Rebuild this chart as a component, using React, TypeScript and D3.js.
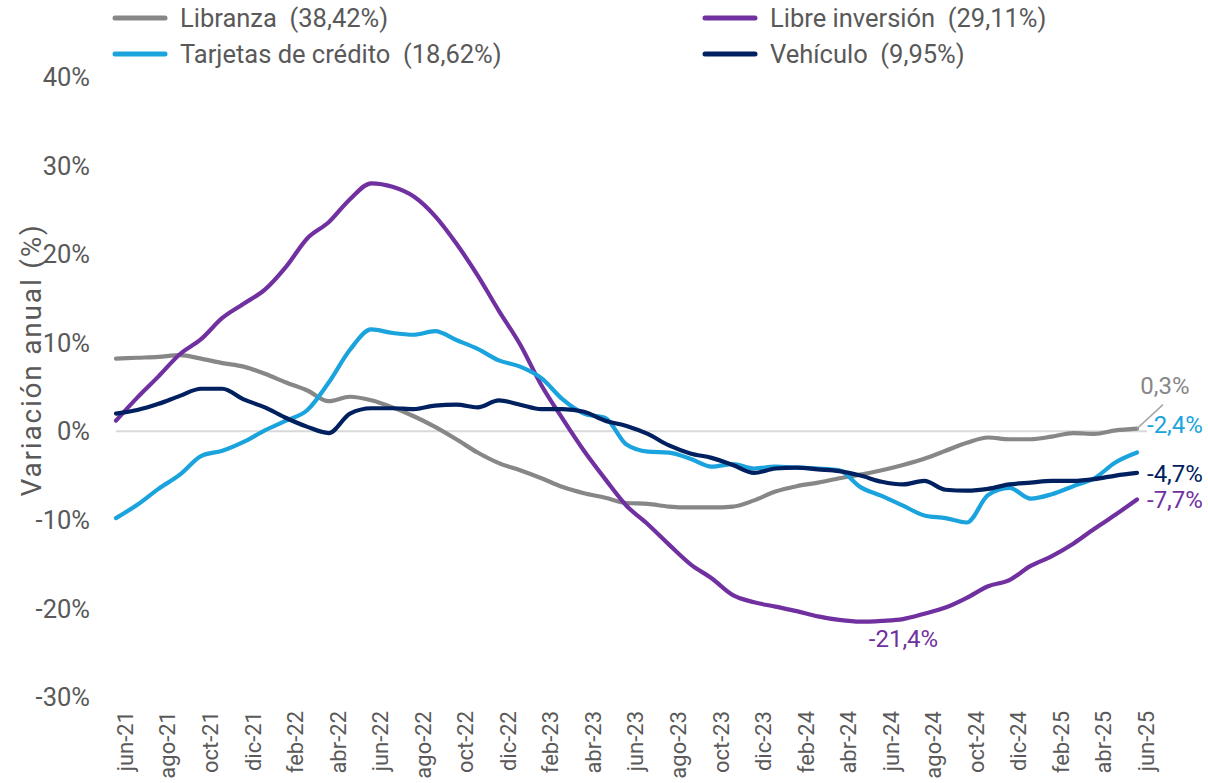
import React from "react";
import * as d3 from "d3";

// meses jun-21 .. jun-25 (49 puntos), etiquetas cada dos meses
const tickLabels = [
  "jun-21", "ago-21", "oct-21", "dic-21", "feb-22", "abr-22", "jun-22", "ago-22",
  "oct-22", "dic-22", "feb-23", "abr-23", "jun-23", "ago-23", "oct-23", "dic-23",
  "feb-24", "abr-24", "jun-24", "ago-24", "oct-24", "dic-24", "feb-25", "abr-25", "jun-25",
];

const libranza = [
  8.2, 8.3, 8.4, 8.6, 8.2, 7.7, 7.3, 6.5, 5.5, 4.6, 3.4, 3.9, 3.5, 2.7, 1.7, 0.5,
  -0.9, -2.4, -3.6, -4.4, -5.3, -6.3, -7.0, -7.5, -8.1, -8.2, -8.5, -8.6, -8.6, -8.5,
  -7.8, -6.8, -6.2, -5.8, -5.3, -4.9, -4.4, -3.8, -3.1, -2.2, -1.3, -0.7, -0.9, -0.9,
  -0.6, -0.2, -0.3, 0.1, 0.3,
];

const libreInversion = [
  1.2, 3.8, 6.2, 8.7, 10.4, 12.8, 14.4, 16.0, 18.6, 21.8, 23.6, 26.2, 28.0, 27.6, 26.5,
  24.3, 21.2, 17.6, 13.6, 9.8, 5.2, 1.4, -2.2, -5.4, -8.4, -10.5, -12.8, -15.0, -16.6,
  -18.5, -19.3, -19.8, -20.3, -20.9, -21.3, -21.5, -21.4, -21.2, -20.6, -19.9, -18.8,
  -17.5, -16.8, -15.2, -14.1, -12.7, -11.0, -9.4, -7.7,
];

const tarjetas = [
  -9.8, -8.3, -6.5, -4.9, -2.8, -2.2, -1.2, 0.1, 1.2, 2.4, 5.5, 9.2, 11.5, 11.1, 10.9,
  11.3, 10.3, 9.3, 8.0, 7.3, 6.0, 3.6, 2.0, 1.5, -1.5, -2.3, -2.4, -3.1, -4.0, -3.7,
  -4.2, -4.0, -4.1, -4.2, -4.4, -6.3, -7.3, -8.4, -9.5, -9.8, -10.3, -7.2, -6.4, -7.6,
  -7.1, -6.2, -5.3, -3.5, -2.4,
];

const vehiculo = [
  2.0, 2.4, 3.1, 4.0, 4.8, 4.8, 3.6, 2.7, 1.5, 0.5, -0.2, 2.0, 2.6, 2.6, 2.5, 2.9, 3.0,
  2.7, 3.5, 3.0, 2.5, 2.5, 2.2, 1.2, 0.6, -0.3, -1.6, -2.5, -3.0, -3.8, -4.7, -4.2,
  -4.1, -4.3, -4.5, -5.0, -5.7, -6.0, -5.6, -6.6, -6.7, -6.5, -6.0, -5.8, -5.6, -5.6,
  -5.4, -5.0, -4.7,
];

const yTicks = [40, 30, 20, 10, 0, -10, -20, -30];

const series = [
  { name: "Libranza", share: "38,42%", values: libranza, color: "#878787" },
  { name: "Libre inversión", share: "29,11%", values: libreInversion, color: "#7030A0" },
  { name: "Tarjetas de crédito", share: "18,62%", values: tarjetas, color: "#1AA3DC" },
  { name: "Vehículo", share: "9,95%", values: vehiculo, color: "#002060" },
];

const W = 1208;
const H = 783;
const FONT = "Roboto, 'Noto Sans', sans-serif";
const TEXT = "#595959";

export default function App() {
  const n = libranza.length;
  const x = d3.scaleLinear().domain([0, n - 1]).range([116, 1137]);
  const y = d3.scaleLinear().domain([-30, 40]).range([697, 77]);

  const line = d3
    .line<number>()
    .x((d, i) => x(i))
    .y((d) => y(d))
    .curve(d3.curveMonotoneX);

  const last = n - 1;
  const minIdx = d3.minIndex(libreInversion);

  const legendPos = [
    { lx: 115, ly: 18 },
    { lx: 705, ly: 18 },
    { lx: 115, ly: 54 },
    { lx: 705, ly: 54 },
  ];

  const endLabels = [
    { v: tarjetas[last], text: "-2,4%", color: "#1AA3DC" },
    { v: vehiculo[last], text: "-4,7%", color: "#002060" },
    { v: libreInversion[last], text: "-7,7%", color: "#7030A0" },
  ];

  return (
    <div style={{ position: "absolute", left: 0, top: 0 }}>
      <svg width={W} height={H} style={{ display: "block", fontFamily: FONT }}>
        <rect width={W} height={H} fill="#fff" />

        {/* legend */}
        {series.map((s, i) => (
          <g key={s.name}>
            <line
              x1={legendPos[i].lx}
              x2={legendPos[i].lx + 50}
              y1={legendPos[i].ly}
              y2={legendPos[i].ly}
              stroke={s.color}
              strokeWidth={5}
              strokeLinecap="round"
            />
            <text
              x={legendPos[i].lx + 65}
              y={legendPos[i].ly}
              dy="0.36em"
              fontSize={25.5}
              fill={TEXT}
              style={{ whiteSpace: "pre" }}
            >
              {`${s.name}  (${s.share})`}
            </text>
          </g>
        ))}

        {/* y axis */}
        {yTicks.map((t) => (
          <text key={t} x={90} y={y(t)} dy="0.36em" textAnchor="end" fontSize={25.5} fill={TEXT}>
            {`${t}%`}
          </text>
        ))}
        <text
          transform={`translate(31,360) rotate(-90)`}
          textAnchor="middle"
          dy="0.36em"
          fontSize={28}
          fill={TEXT}
          letterSpacing={1.8}
        >
          Variación anual (%)
        </text>

        {/* zero line */}
        <line x1={x(0)} x2={x(last) + 10} y1={y(0)} y2={y(0)} stroke="#d9d9d9" strokeWidth={2} />

        {/* x labels */}
        {tickLabels.map((lab, k) => (
          <text
            key={lab}
            transform={`translate(${x(k * 2) + 9},711) rotate(-90)`}
            dy="0.36em"
            textAnchor="end"
            fontSize={22}
            fill={TEXT}
          >
            {lab}
          </text>
        ))}

        {/* series */}
        {series.map((s) => (
          <path
            key={s.name}
            d={line(s.values) ?? ""}
            fill="none"
            stroke={s.color}
            strokeWidth={4.2}
            strokeLinejoin="round"
            strokeLinecap="round"
          />
        ))}

        {/* annotations */}
        <line
          x1={x(last)}
          y1={y(libranza[last])}
          x2={x(last) + 26}
          y2={y(libranza[last]) - 24}
          stroke="#a6a6a6"
          strokeWidth={1.5}
        />
        <text x={x(last) + 28} y={385} dy="0.36em" textAnchor="middle" fontSize={24} fill="#878787">
          0,3%
        </text>
        {endLabels.map((e) => (
          <text
            key={e.text}
            x={x(last) + 10}
            y={e.text === "-2,4%" ? 424 : y(e.v)}
            dy="0.36em"
            fontSize={24}
            fill={e.color}
          >
            {e.text}
          </text>
        ))}
        <text
          x={x(minIdx) + 43}
          y={y(libreInversion[minIdx]) + 17}
          dy="0.36em"
          textAnchor="middle"
          fontSize={24}
          fill="#7030A0"
        >
          -21,4%
        </text>
      </svg>
    </div>
  );
}
